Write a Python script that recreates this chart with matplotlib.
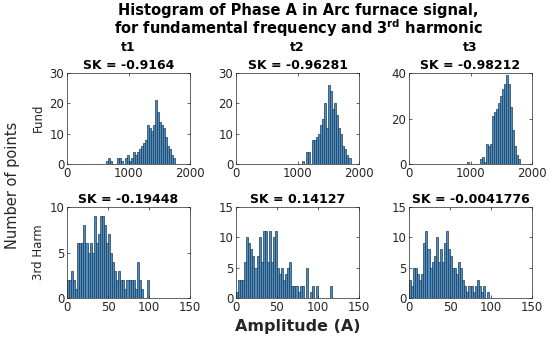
import numpy as np
import matplotlib
matplotlib.use('Agg')
import matplotlib.pyplot as plt

# histogram counts (bin start, bin width, counts)
fund_t1_start, fund_t1_width = 640, 33
fund_t1 = [1, 2, 1, 0, 0, 2, 2, 1, 0, 2, 3, 1, 2, 4, 3, 4, 5, 6, 7, 8,
           13, 12, 11, 13, 21, 17, 14, 13, 12, 9, 6, 5, 3, 2]
fund_t2_start, fund_t2_width = 1070, 33
fund_t2 = [1, 0, 4, 4, 0, 8, 8, 9, 10, 13, 15, 20, 12, 26, 24, 18, 20, 16,
           12, 10, 6, 5, 3, 2]
fund_t3_start, fund_t3_width = 950, 33
fund_t3 = [1, 0, 0, 0, 0, 0, 2, 3, 1, 9, 8, 9, 21, 23, 24, 27, 30, 33, 35,
           39, 35, 25, 15, 8, 4, 2]

harm_t1_start, harm_t1_width = 0, 2.5
harm_t1 = [2, 2, 3, 2, 1, 6, 6, 6, 8, 6, 5, 6, 5, 9, 6, 7, 9, 9, 8, 6,
           7, 5, 4, 3, 2, 3, 2, 2, 1, 2, 2, 2, 2, 1, 4, 2, 1, 0, 0, 2]
harm_t2_start, harm_t2_width = 0, 2.5
harm_t2 = [1, 3, 3, 3, 6, 10, 9, 8, 7, 5, 7, 10, 6, 11, 11, 6, 11, 6, 10, 11,
           5, 4, 5, 3, 4, 5, 6, 2, 2, 2, 1, 2, 2, 0, 5, 0, 1, 2, 0, 2,
           0, 0, 0, 0, 0, 0, 2]
harm_t3_start, harm_t3_width = 0, 2.5
harm_t3 = [3, 2, 5, 5, 4, 3, 4, 9, 11, 8, 5, 6, 7, 10, 6, 8, 6, 9, 11, 8,
           7, 5, 5, 4, 6, 5, 3, 2, 1, 2, 2, 1, 2, 3, 2, 1, 2, 0, 1]

col_titles = ['t1', 't2', 't3']
sk_fund = ['-0.9164', '-0.96281', '-0.98212']
sk_harm = ['-0.19448', '0.14127', '-0.0041776']
fund_yticks = [[0, 10, 20, 30], [0, 10, 20, 30], [0, 20, 40]]
harm_yticks = [[0, 5, 10], [0, 5, 10, 15], [0, 5, 10, 15]]
fund_xticks = [0, 1000, 2000]
harm_xticks = [0, 50, 100, 150]

fund = [(fund_t1_start, fund_t1_width, fund_t1),
        (fund_t2_start, fund_t2_width, fund_t2),
        (fund_t3_start, fund_t3_width, fund_t3)]
harm = [(harm_t1_start, harm_t1_width, harm_t1),
        (harm_t2_start, harm_t2_width, harm_t2),
        (harm_t3_start, harm_t3_width, harm_t3)]

face = '#4d8ec4'
edge = '#1e3a52'
txt = '#262626'

fig = plt.figure(figsize=(5.5, 3.41), dpi=100)
lefts = [67/550, 236/550, 409/550]
w = 123/550
h = 91/341
bottoms = [1 - 164/341, 1 - 298/341]


def draw(ax, start, width, counts, xlim, xticks, yticks):
    counts = np.array(counts)
    x = start + width*np.arange(len(counts))
    ax.bar(x, counts, width=width, align='edge', color=face,
           edgecolor=edge, linewidth=0.5)
    ax.set_xlim(*xlim)
    ax.set_ylim(yticks[0], yticks[-1])
    ax.set_xticks(xticks)
    ax.set_yticks(yticks)
    ax.tick_params(direction='in', length=2, width=0.5, colors=txt,
                   labelsize=8.5, top=True, right=True, pad=2)
    ax.tick_params(labeltop=False, labelright=False)
    for s in ax.spines.values():
        s.set_linewidth(0.5)
        s.set_color(txt)


for i in range(3):
    ax = fig.add_axes([lefts[i], bottoms[0], w, h])
    s, bw, c = fund[i]
    draw(ax, s, bw, c, (0, 2000), fund_xticks, fund_yticks[i])
    ax.set_title(col_titles[i] + '\nSK = ' + sk_fund[i], fontsize=9,
                 fontweight='bold', pad=3, linespacing=1.45)

    ax = fig.add_axes([lefts[i], bottoms[1], w, h])
    s, bw, c = harm[i]
    draw(ax, s, bw, c, (0, 150), harm_xticks, harm_yticks[i])
    ax.set_title('SK = ' + sk_harm[i], fontsize=9, fontweight='bold', pad=3)

fig.text(38/550, 1 - 118/341, 'Fund', rotation=90, ha='center',
         va='center', fontsize=8.5, color=txt)
fig.text(38/550, 1 - 252/341, '3rd Harm', rotation=90, ha='center',
         va='center', fontsize=8.5, color=txt)
fig.text(298/550, 1 - 10/341, 'Histogram of Phase A in Arc furnace signal,',
         ha='center', va='center', fontsize=10.5, fontweight='bold')
fig.text(298/550, 1 - 28/341,
         r'for fundamental frequency and 3$^{\mathbf{rd}}$ harmonic',
         ha='center', va='center', fontsize=10.5, fontweight='bold')
fig.text(12/550, 1 - 185/341, 'Number of points', rotation=90,
         ha='center', va='center', fontsize=10.5, color=txt)
fig.text(298/550, 1 - 326/341, 'Amplitude (A)', ha='center', va='center',
         fontsize=11.5, fontweight='bold', color=txt)

fig.savefig('out.png', dpi=100)
